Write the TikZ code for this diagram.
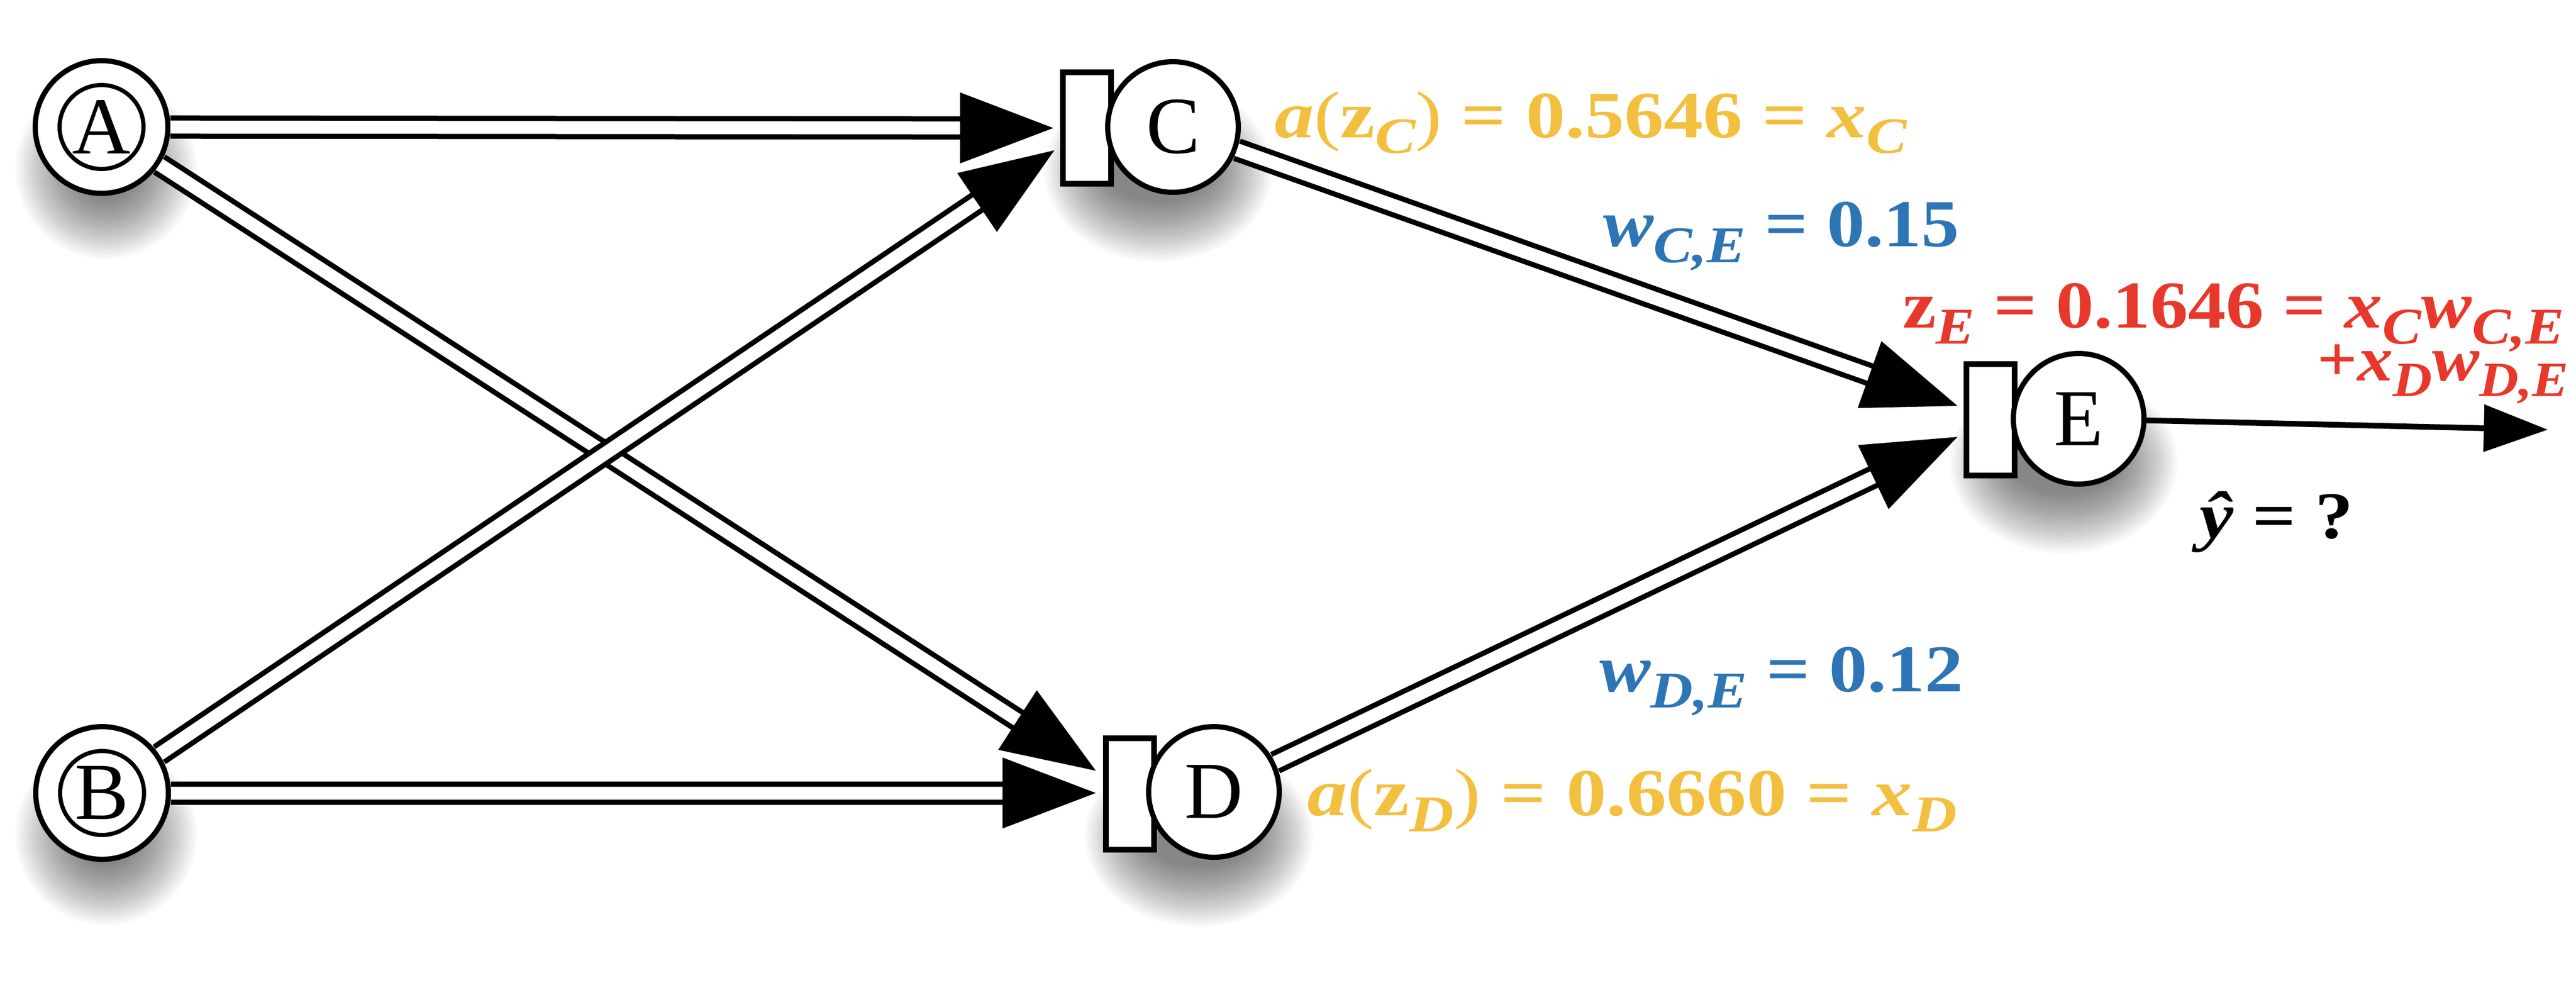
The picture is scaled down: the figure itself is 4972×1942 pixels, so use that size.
\documentclass[tikz,border=0pt]{standalone}
\usepackage{fontspec}
\usepackage{graphicx}
\usetikzlibrary{calc}
\newfontfamily\nodefont{Liberation Serif}
\newfontfamily\eqfont{Liberation Serif}
\definecolor{eqgold}{HTML}{F3BF3F}
\definecolor{eqblue}{HTML}{2E75B6}
\definecolor{eqred}{HTML}{E8382B}
\newcommand\bi[1]{{\bfseries\itshape #1}}
\newcommand\bu[1]{{\bfseries #1}}
\newcommand\lsub[1]{\raisebox{-0.24em}{\fontsize{10}{11}\selectfont\bfseries\itshape #1}}
\newcommand\smp[1]{\smash{#1}}
\newcommand\fitbox[3]{\resizebox*{#1}{#2}{#3}}
\newcommand\fitdig[3]{\resizebox{#1}{#2}{#3}}
\newcommand\arrtip[4]{\fill ($(#1)!#3!(#2)!#4!90:(#1)$) -- (#1) -- ($(#1)!#3!(#2)!#4!-90:(#1)$) -- cycle;}
\newcommand\nshadow[3]{\foreach \k in {0,...,23}{\fill[black,opacity=0.024] (#1,#2) ellipse ({#3+60+5*\k} and {60+5*\k});}}
\tikzset{
  dbl/.style={draw=black, line width=1pt, double=white, double distance=2.5pt, shorten >=17.6pt},
  neuron/.style={circle, draw=black, fill=white, line width=1pt, minimum size=25.2pt, inner sep=0pt,
                 font=\nodefont\fontsize{15.6}{18}\selectfont},
  inputn/.style={neuron, minimum size=25.6pt},
  biasbox/.style={rectangle, draw=black, fill=white, line width=1.1pt, minimum width=9.3pt,
                  minimum height=21.5pt, inner sep=0pt},
  eq/.style={anchor=north west, inner sep=0pt, font=\eqfont\fontsize{13}{15}\selectfont},
  outline/.style={draw=black, line width=1.1pt, shorten >=12pt}
}
\begin{document}
\begin{tikzpicture}[x=0.1pt,y=-0.1pt]
\fill[white] (0,0) rectangle (4972,1942);
\useasboundingbox (0,0) rectangle (4972,1942);
% shadows
\nshadow{205}{325}{0}
\nshadow{205}{1610}{0}
\nshadow{2235}{330}{45}
\nshadow{2314}{1613}{45}
\nshadow{3983}{893}{45}
% nodes
\node[inputn] (A) at (196,245) {A};
\draw[line width=0.8pt] (A.center) circle [radius=8.1pt];
\node[inputn] (B) at (197,1530) {B};
\draw[line width=0.8pt] (B.center) circle [radius=8.1pt];
\node[biasbox] (Cr) at (2098,247) {};
\node[neuron] (C) at (2264,245) {C};
\node[biasbox] (Dr) at (2181,1532) {};
\node[neuron] (D) at (2343,1528) {D};
\node[biasbox] (Er) at (3842,810) {};
\node[neuron] (E) at (4012,808) {E};
% arrow tip points
\coordinate (tAC) at (2033,247);
\coordinate (tBC) at (2035,290);
\coordinate (tAD) at (2115,1487);
\coordinate (tBD) at (2115,1530);
\coordinate (tCE) at (3778,783);
\coordinate (tDE) at (3778,843);
\coordinate (tEo) at (4917,829);
% connectors
\draw[dbl] (A) -- (tAC); \arrtip{tAC}{A}{18pt}{6.85pt}
\draw[dbl] (A) -- (tAD); \arrtip{tAD}{A}{18pt}{6.85pt}
\draw[dbl] (B) -- (tBC); \arrtip{tBC}{B}{18pt}{6.85pt}
\draw[dbl] (B) -- (tBD); \arrtip{tBD}{B}{18pt}{6.85pt}
\draw[dbl] (C) -- (tCE); \arrtip{tCE}{C}{18pt}{6.85pt}
\draw[dbl] (D) -- (tDE); \arrtip{tDE}{D}{18pt}{6.85pt}
\draw[outline] (E) -- (tEo); \arrtip{tEo}{E}{12.3pt}{4.6pt}
% labels
\node[eq, text=eqgold] (lC) at (2458,178)
  {\fitdig{122pt}{8.5pt}{\bi{a}\smp{(}\bu{z}\lsub{C}\smp{)} \bu{=} \bu{0.5646} \bu{=} \bi{x}\lsub{C}}};
\node[eq, text=eqblue] (wCE) at (3092,387)
  {\fitdig{68.8pt}{8.6pt}{\bi{w}\lsub{C,E} \bu{=} \bu{0.15}}};
\node[eq, text=eqred] (zE) at (3670,544)
  {\fitdig{127.7pt}{8.6pt}{\bu{z}\lsub{E} \bu{=} \bu{0.1646} \bu{=} \bi{x}\lsub{C}\bi{w}\lsub{C,E}}};
\node[eq, text=eqred] (zE2) at (4470,663)
  {\fitbox{48.6pt}{11.4pt}{\bu{+}\bi{x}\lsub{D}\bi{w}\lsub{D,E}}};
\node[eq, text=black] (yhat) at (4243,946)
  {\fitbox{29.7pt}{11.8pt}{\bi{ŷ} \bu{=} \bu{?}}};
\node[eq, text=eqblue] (wDE) at (3085,1246)
  {\fitdig{70.3pt}{8.6pt}{\bi{w}\lsub{D,E} \bu{=} \bu{0.12}}};
\node[eq, text=eqgold] (lD) at (2521,1485)
  {\fitdig{125.4pt}{8.6pt}{\bi{a}\smp{(}\bu{z}\lsub{D}\smp{)} \bu{=} \bu{0.6660} \bu{=} \bi{x}\lsub{D}}};
\end{tikzpicture}
\end{document}
